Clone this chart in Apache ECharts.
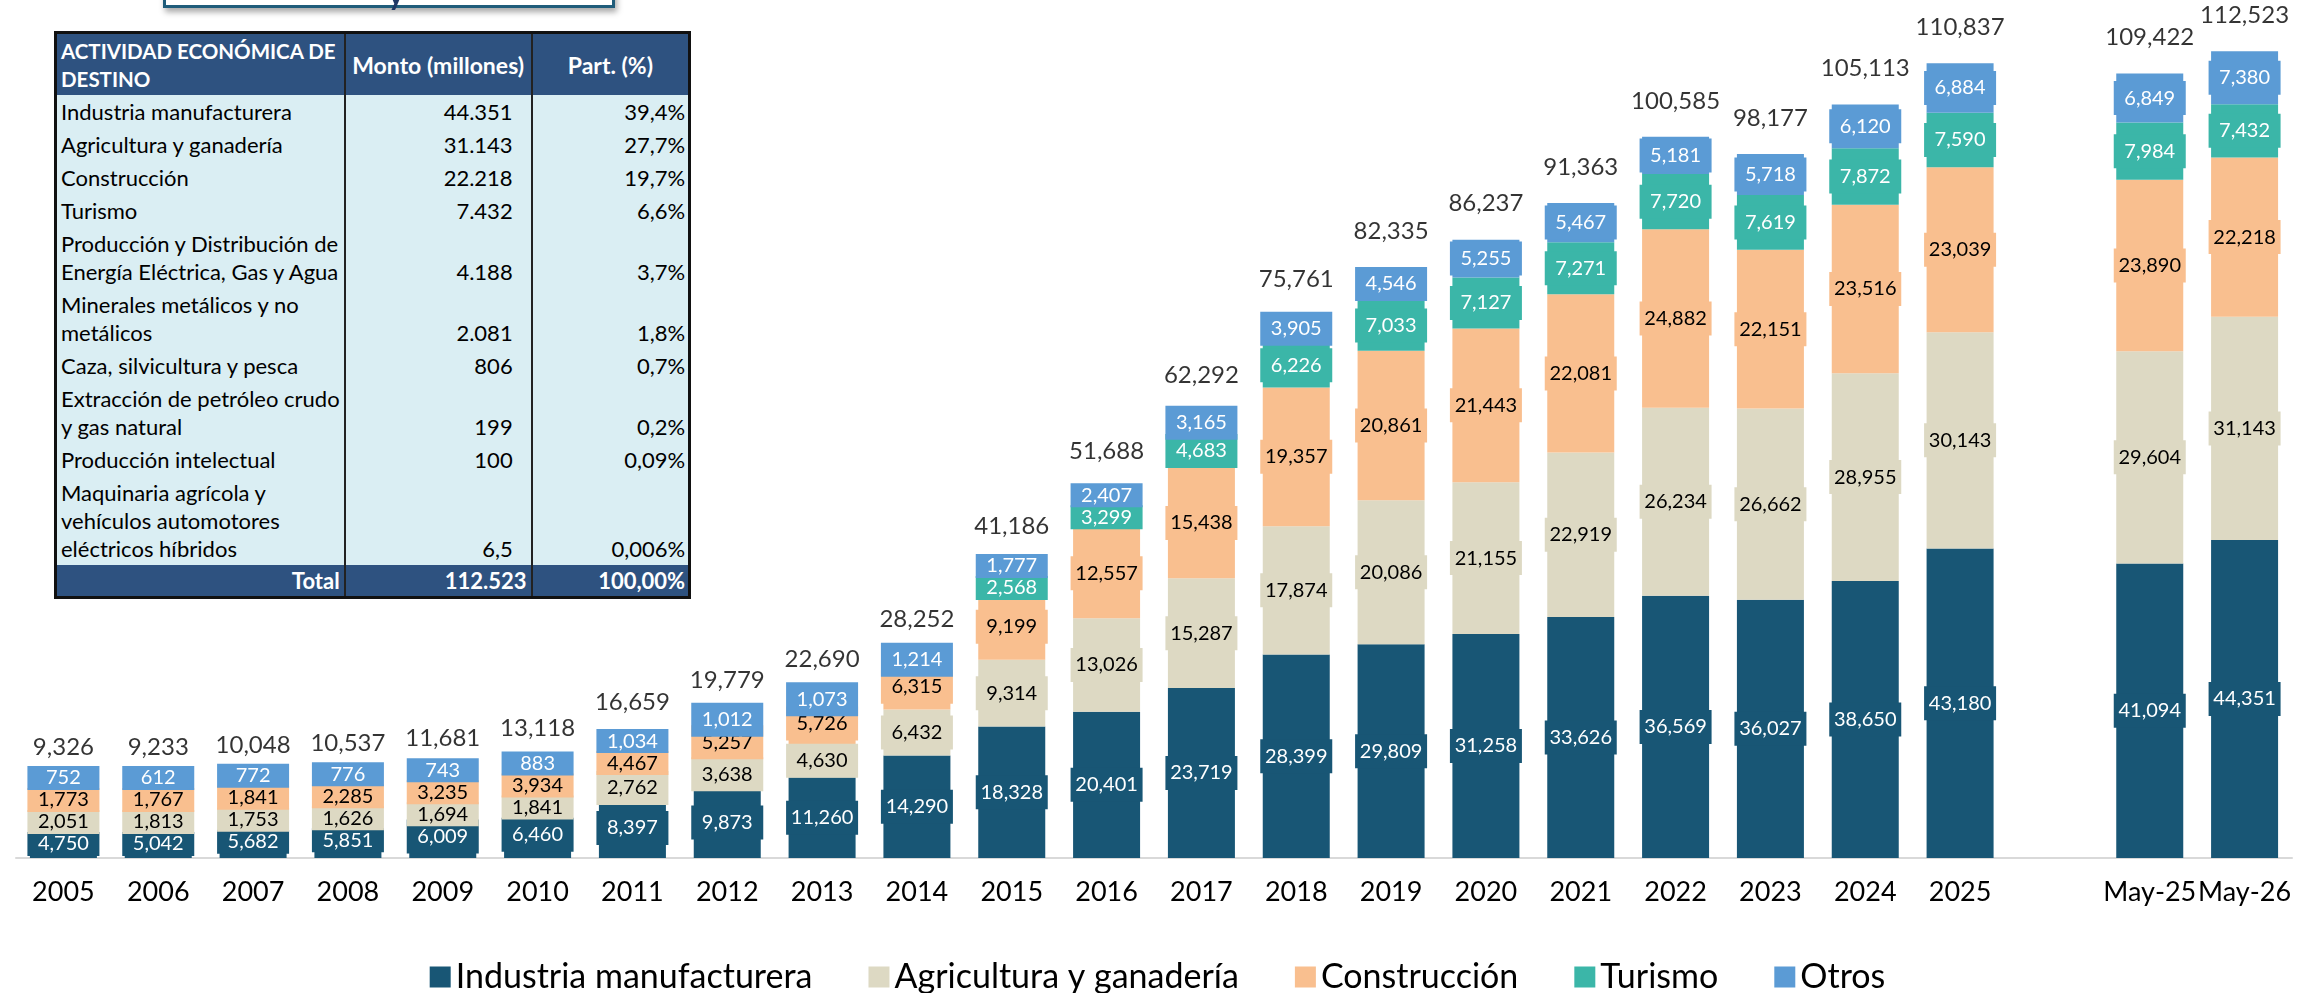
<!DOCTYPE html>
<html>
<head>
<meta charset="utf-8">
<script src="https://cdn.jsdelivr.net/npm/echarts@6/dist/echarts.min.js"></script>
<style>
  html, body { margin: 0; padding: 0; background: #fff; }
  #chart { position: absolute; left: 0; top: 0; width: 2315px; height: 993px; }
  .titlebox {
    position: absolute; left: 163px; top: -44px; width: 446px; height: 46px;
    border: 3px solid #1f5c7a; background: #fff;
    box-shadow: 2px 4px 6px rgba(0, 0, 0, 0.35);
  }
  .titlebox span {
    position: absolute; left: 222px; bottom: -6px;
    font: bold 30px Lato, sans-serif; color: #1f3864;
  }
  #tbl { position: absolute; left: 54px; top: 31px; }
  #tbl table {
    border-collapse: collapse; border: 3px solid #111;
    font-family: Lato, sans-serif; font-size: 22px; color: #000;
    background: #daeef3;
  }
  #tbl td, #tbl th { border-left: 2px solid #222; border-right: 2px solid #222; padding: 3px 4px 2px 4px; line-height: 28px; vertical-align: bottom; white-space: nowrap; }
  #tbl th { background: #2e5280; color: #fff; font-weight: bold; font-size: 23px; height: 55px; vertical-align: middle; }
  #tbl th.l { text-align: left; font-size: 20.5px; line-height: 28px; }
  #tbl td.n { text-align: right; padding-right: 18px; }
  #tbl td.p { text-align: right; padding-right: 3px; }
  #tbl tr.tot td { background: #2e5280; color: #fff; font-weight: bold; line-height: 26px; }
</style>
</head>
<body>
<div id="chart"></div>
<div class="titlebox"><span>y</span></div>
<div id="tbl"></div>
<script>
const categories = ["2005", "2006", "2007", "2008", "2009", "2010", "2011", "2012", "2013", "2014",
  "2015", "2016", "2017", "2018", "2019", "2020", "2021", "2022", "2023", "2024", "2025", "", "May-25", "May-26"];

const industria = [4750, 5042, 5682, 5851, 6009, 6460, 8397, 9873, 11260, 14290,
  18328, 20401, 23719, 28399, 29809, 31258, 33626, 36569, 36027, 38650, 43180, null, 41094, 44351];
const agricultura = [2051, 1813, 1753, 1626, 1694, 1841, 2762, 3638, 4630, 6432,
  9314, 13026, 15287, 17874, 20086, 21155, 22919, 26234, 26662, 28955, 30143, null, 29604, 31143];
const construccion = [1773, 1767, 1841, 2285, 3235, 3934, 4467, 5257, 5726, 6315,
  9199, 12557, 15438, 19357, 20861, 21443, 22081, 24882, 22151, 23516, 23039, null, 23890, 22218];
const turismo = [null, null, null, null, null, null, null, null, null, null,
  2568, 3299, 4683, 6226, 7033, 7127, 7271, 7720, 7619, 7872, 7590, null, 7984, 7432];
const otros = [752, 612, 772, 776, 743, 883, 1034, 1012, 1073, 1214,
  1777, 2407, 3165, 3905, 4546, 5255, 5467, 5181, 5718, 6120, 6884, null, 6849, 7380];
const totales = [9326, 9233, 10048, 10537, 11681, 13118, 16659, 19779, 22690, 28252,
  41186, 51688, 62292, 75761, 82335, 86237, 91363, 100585, 98177, 105113, 110837, null, 109422, 112523];

const seriesNames = ["Industria manufacturera", "Agricultura y ganadería", "Construcción", "Turismo", "Otros"];
const seriesColors = ["#185675", "#ddd9c3", "#f9bf8f", "#3bb6a8", "#5b9bd5"];
const labelColors = ["#fff", "#000", "#000", "#fff", "#fff"];

// tabla
const tablaActividad = ["Industria manufacturera", "Agricultura y ganadería", "Construcción", "Turismo",
  "Producción y Distribución de\nEnergía Eléctrica, Gas y Agua", "Minerales metálicos y no\nmetálicos",
  "Caza, silvicultura y pesca", "Extracción de petróleo crudo\ny gas natural", "Producción intelectual",
  "Maquinaria agrícola y\nvehículos automotores\neléctricos híbridos"];
const tablaMonto = ["44.351", "31.143", "22.218", "7.432", "4.188", "2.081", "806", "199", "100", "6,5"];
const tablaPart = ["39,4%", "27,7%", "19,7%", "6,6%", "3,7%", "1,8%", "0,7%", "0,2%", "0,09%", "0,006%"];
const tablaTotal = ["Total", "112.523", "100,00%"];

let html = '<table><colgroup><col style="width:287px"><col style="width:187px"><col style="width:158px"></colgroup>' +
  '<tr><th class="l">ACTIVIDAD ECONÓMICA DE<br>DESTINO</th><th>Monto (millones)</th><th>Part. (%)</th></tr>';
tablaActividad.forEach((name, i) => {
  html += `<tr><td>${name.split("\n").join("<br>")}</td><td class="n">${tablaMonto[i]}</td><td class="p">${tablaPart[i]}</td></tr>`;
});
html += `<tr class="tot"><td style="text-align:right">${tablaTotal[0]}</td><td style="text-align:right;padding-right:4px">${tablaTotal[1]}</td><td class="p">${tablaTotal[2]}</td></tr></table>`;
document.getElementById("tbl").innerHTML = html;

// layout
const H = 993, GRID_TOP = 12, GRID_BOTTOM = 135, Y_MAX = 118000;
const pxPerUnit = (H - GRID_TOP - GRID_BOTTOM) / Y_MAX;
const GAP = 22, MIN_Y = 14;

// mover etiquetas que se pisan (como en el original)
const all = [industria, agricultura, construccion, turismo, otros];
const offsets = all.map(() => []);
const crowded = all.map(() => []);
const totalLift = [];
categories.forEach((c, i) => {
  let base = 0;
  const items = [];
  all.forEach((arr, s) => {
    const v = arr[i];
    if (v == null) return;
    items.push({ s, want: (base + v / 2) * pxPerUnit });
    base += v;
  });
  const cl = [];
  items.forEach((it, k) => {
    cl.push({ a: k, b: k, p: Math.max(MIN_Y, it.want) });
    while (cl.length > 1) {
      const cur = cl[cl.length - 1], prev = cl[cl.length - 2];
      if (prev.p + (prev.b - prev.a + 1) * GAP <= cur.p) break;
      cl.pop();
      prev.b = cur.b;
      let sum = 0;
      for (let j = prev.a; j <= prev.b; j++) sum += items[j].want - (j - prev.a) * GAP;
      prev.p = Math.max(MIN_Y, sum / (prev.b - prev.a + 1));
    }
  });
  let topPos = 0;
  cl.forEach((g) => {
    for (let j = g.a; j <= g.b; j++) {
      const pos = g.p + (j - g.a) * GAP;
      offsets[items[j].s][i] = -(pos - items[j].want);
      crowded[items[j].s][i] = g.b > g.a;
      topPos = pos;
    }
  });
  totalLift[i] = Math.max(36, topPos + 31 - base * pxPerUnit);
});

const FONT = "Lato";
const chart = echarts.init(document.getElementById("chart"));

const barSeries = all.map((arr, s) => ({
  name: seriesNames[s],
  type: "bar",
  stack: "total",
  barWidth: 67,
  itemStyle: { color: seriesColors[s] },
  data: arr.map((v, i) =>
    v == null
      ? "-"
      : { value: v, label: { offset: [0, offsets[s][i] || 0], padding: crowded[s][i] ? [1, 6] : [6, 6] } }
  ),
  label: {
    show: true,
    position: "inside",
    formatter: (p) => Number(p.value).toLocaleString("en-US"),
    color: labelColors[s],
    backgroundColor: seriesColors[s],
    fontFamily: FONT,
    fontSize: 20,
    lineHeight: 22,
    padding: [6, 6],
    width: 60,
    align: "center",
  },
}));

chart.setOption({
  animation: false,
  backgroundColor: "#fff",
  grid: { left: 16, right: 23, top: GRID_TOP, bottom: GRID_BOTTOM, outerBoundsMode: "none" },
  legend: {
    data: seriesNames,
    bottom: -6,
    left: "center",
    icon: "rect",
    itemWidth: 21,
    itemHeight: 21,
    itemGap: 56,
    textStyle: { fontFamily: FONT, fontSize: 34, color: "#000" },
  },
  xAxis: {
    type: "category",
    data: categories,
    axisLine: { lineStyle: { color: "#d9d9d9", width: 2 } },
    axisTick: { show: false },
    axisLabel: { interval: 0, fontFamily: FONT, fontSize: 27, color: "#000", margin: 21 },
  },
  yAxis: { type: "value", min: 0, max: Y_MAX, show: false, splitLine: { show: false } },
  series: [
    ...barSeries,
    {
      name: "Total",
      type: "scatter",
      symbolSize: 1,
      itemStyle: { color: "rgba(0,0,0,0)" },
      z: 5,
      data: totales.map((v, i) => (v == null ? "-" : { value: v, label: { offset: [0, -totalLift[i]] } })),
      label: {
        show: true,
        position: "inside",
        formatter: (p) => Number(p.value).toLocaleString("en-US"),
        color: "#000",
        fontFamily: FONT,
        fontSize: 24,
      },
    },
  ],
});

window.addEventListener("resize", () => chart.resize());
</script>
</body>
</html>
